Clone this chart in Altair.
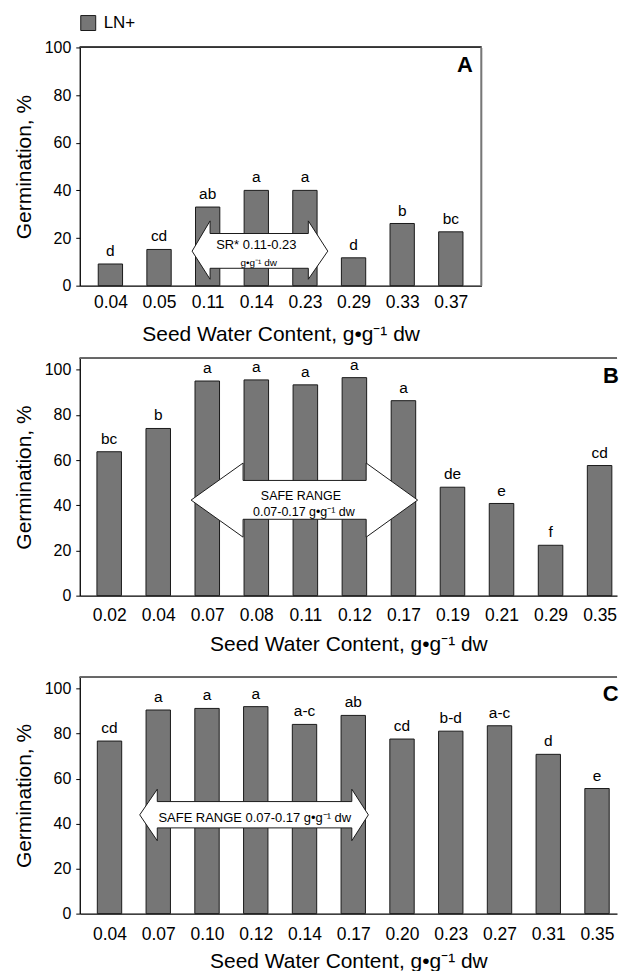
import altair as alt
import pandas as pd

FONT = "Liberation Sans, Arial, sans-serif"
XTITLE = "Seed Water Content, g\u2022g\u207b\u00b9 dw"
YTITLE = "Germination, %"
SERIES = "LN+"

# ---------------- Panel A ----------------
a_cats = ["0.04", "0.05", "0.11", "0.14", "0.23", "0.29", "0.33", "0.37"]
a_vals = [9.1, 15.2, 33.0, 40.0, 40.0, 11.7, 26.1, 22.6]
a_lets = ["d", "cd", "ab", "a", "a", "d", "b", "bc"]
# double arrow: x in category-index units, y in % units
a_arrow_x = [1.68, 2.05, 2.05, 4.07, 4.07, 4.47]
a_arrow_top = [14.5, 27.2, 21.9, 21.9, 27.2, 14.5]
a_arrow_bot = [14.5, 2.7, 7.3, 7.3, 2.7, 14.5]
a_text = ["SR* 0.11-0.23", "g\u2022g\u207b\u00b9 dw"]
a_text_x = [3.0, 3.05]
a_text_y = [16.9, 9.5]
a_text_size = [13, 10]
a_letter = ("A", 7.29, 92.8)

# ---------------- Panel B ----------------
b_cats = ["0.02", "0.04", "0.07", "0.08", "0.11", "0.12", "0.17", "0.19", "0.21", "0.29", "0.35"]
b_vals = [63.7, 74.0, 95.0, 95.5, 93.3, 96.5, 86.3, 48.0, 40.8, 22.3, 57.6]
b_lets = ["bc", "b", "a", "a", "a", "a", "a", "de", "e", "f", "cd"]
b_arrow_x = [1.67, 2.73, 2.73, 5.24, 5.24, 6.29]
b_arrow_top = [42.3, 58.7, 51.0, 51.0, 58.7, 42.3]
b_arrow_bot = [42.3, 25.9, 33.8, 33.8, 25.9, 42.3]
b_text = ["SAFE RANGE", "0.07-0.17 g\u2022g\u207b\u00b9 dw"]
b_text_x = [3.91, 3.97]
b_text_y = [44.1, 37.1]
b_text_size = [12.5, 12.5]
b_letter = ("B", 10.23, 97.4)

# ---------------- Panel C ----------------
c_cats = ["0.04", "0.07", "0.10", "0.12", "0.14", "0.17", "0.20", "0.23", "0.27", "0.31", "0.35"]
c_vals = [76.7, 90.5, 91.2, 92.0, 84.1, 88.1, 77.6, 81.1, 83.5, 70.8, 55.6]
c_lets = ["cd", "a", "a", "a", "a-c", "ab", "cd", "b-d", "a-c", "d", "e"]
c_arrow_x = [0.62, 0.98, 0.98, 4.97, 4.97, 5.31]
c_arrow_top = [43.9, 55.3, 49.8, 49.8, 55.3, 43.9]
c_arrow_bot = [43.9, 32.4, 38.1, 38.1, 32.4, 43.9]
c_text = ["SAFE RANGE 0.07-0.17 g\u2022g\u207b\u00b9 dw"]
c_text_x = [2.98]
c_text_y = [42.5]
c_text_size = [13]
c_letter = ("C", 10.28, 97.5)

Y_TICKS = [0, 20, 40, 60, 80, 100]


def panel(cats, vals, lets, ax, atop, abot, txt, tx, ty, tsize, letter,
          xdom, ydom, width, height, label_pad, title_pad, legend, right_border):
    n = len(cats)
    df = pd.DataFrame({"idx": list(range(n)), "cat": cats, "val": vals,
                       "let": lets, "series": [SERIES] * n})
    arrow_df = pd.DataFrame({"ax": ax, "atop": atop, "abot": abot})
    text_df = pd.DataFrame({"t": txt, "tx": tx, "ty": ty, "fs": tsize})
    letter_df = pd.DataFrame({"t": [letter[0]], "tx": [letter[1]], "ty": [letter[2]]})

    lab_arr = "[" + ",".join("'" + c + "'" for c in cats) + "]"
    xs = alt.Scale(domain=xdom, nice=False, zero=False)
    ys = alt.Scale(domain=ydom, nice=False, zero=True)
    xaxis = alt.Axis(values=list(range(n)), labelExpr=lab_arr + "[datum.value]",
                     title=XTITLE, ticks=False, tickSize=0, grid=False,
                     labelPadding=label_pad, titlePadding=title_pad,
                     labelFontSize=17.5, titleFontSize=21, labelFlush=False,
                     domainColor="black", domainWidth=1.3)
    yaxis = alt.Axis(values=Y_TICKS, title=YTITLE, grid=False, tickSize=4,
                     labelPadding=5, titlePadding=10, labelFontSize=16,
                     titleFontSize=21, domainColor="black", domainWidth=1.3,
                     tickColor="black")

    if legend:
        leg = alt.Legend(orient="none", legendX=0, legendY=-33, title=None,
                         symbolType="square", symbolSize=225,
                         symbolStrokeColor="#1a1a1a", symbolStrokeWidth=1,
                         labelFontSize=17, labelOffset=7, padding=0,
                         labelColor="black")
    else:
        leg = None

    bars = alt.Chart(df).transform_calculate(
        x1="datum.idx - 0.25", x2="datum.idx + 0.25"
    ).mark_bar(stroke="#1a1a1a", strokeWidth=1).encode(
        x=alt.X("x1:Q", scale=xs, axis=xaxis),
        x2="x2:Q",
        y=alt.Y("val:Q", scale=ys, axis=yaxis),
        y2=alt.datum(0),
        color=alt.Color("series:N", scale=alt.Scale(range=["#767676"]), legend=leg),
    )
    lets_layer = alt.Chart(df).mark_text(
        dy=-8, baseline="alphabetic", fontSize=15.5, color="black", font=FONT
    ).encode(
        x=alt.X("idx:Q", scale=xs, axis=xaxis),
        y=alt.Y("val:Q", scale=ys, axis=yaxis),
        text="let:N",
    )
    arrow = alt.Chart(arrow_df).mark_area(
        fill="white", stroke="#1a1a1a", strokeWidth=1, opacity=1, orient="vertical"
    ).encode(
        x=alt.X("ax:Q", scale=xs, axis=xaxis),
        y=alt.Y("atop:Q", scale=ys, axis=yaxis),
        y2="abot:Q",
    )
    atext = alt.Chart(text_df).mark_text(
        baseline="middle", align="center", color="black", font=FONT
    ).encode(
        x=alt.X("tx:Q", scale=xs, axis=xaxis),
        y=alt.Y("ty:Q", scale=ys, axis=yaxis),
        text="t:N",
        size=alt.Size("fs:Q", scale=None, legend=None),
    )
    ltext = alt.Chart(letter_df).mark_text(
        baseline="middle", align="center", fontSize=22, fontWeight="bold",
        color="black", font=FONT
    ).encode(
        x=alt.X("tx:Q", scale=xs, axis=xaxis),
        y=alt.Y("ty:Q", scale=ys, axis=yaxis),
        text="t:N",
    )
    top_rule = alt.Chart(df).mark_rule(
        color="#333333" if right_border else "#666666", strokeWidth=1.2
    ).encode(
        y=alt.Y(datum=ydom[1], scale=ys, axis=yaxis),
    )
    layers = [bars, arrow, atext, lets_layer, ltext, top_rule]
    if right_border:
        right_rule = alt.Chart(df).mark_rule(color="#777777", strokeWidth=1.2).encode(
            x=alt.X(datum=xdom[1], scale=xs, axis=xaxis),
        )
        layers.append(right_rule)
    return alt.layer(*layers).properties(width=width, height=height)


pa = panel(a_cats, a_vals, a_lets, a_arrow_x, a_arrow_top, a_arrow_bot,
           a_text, a_text_x, a_text_y, a_text_size, a_letter,
           [-0.63, 7.63], [0, 100], 403, 239, 8, 13, True, True)
pb = panel(b_cats, b_vals, b_lets, b_arrow_x, b_arrow_top, b_arrow_bot,
           b_text, b_text_x, b_text_y, b_text_size, b_letter,
           [-0.60, 10.355], [0, 105], 539, 238, 11, 10, False, False)
pc = panel(c_cats, c_vals, c_lets, c_arrow_x, c_arrow_top, c_arrow_bot,
           c_text, c_text_x, c_text_y, c_text_size, c_letter,
           [-0.61, 10.41], [0, 105], 539, 237, 12, 8, False, False)

top = alt.vconcat(pa, pb, spacing=12).resolve_scale(
    x="independent", y="independent", color="independent")
chart = alt.vconcat(top, pc, spacing=21).resolve_scale(
    x="independent", y="independent", color="independent"
).properties(
    padding={"left": 5, "top": 5, "right": 0, "bottom": 0}
).configure(
    font=FONT
).configure_view(
    strokeWidth=0
).configure_axis(
    labelColor="black", titleColor="black", titleFontWeight="normal",
    labelFont=FONT, titleFont=FONT
).configure_legend(
    labelFont=FONT
)

chart.save("out.html", embed_options={"renderer": "svg", "actions": False})
